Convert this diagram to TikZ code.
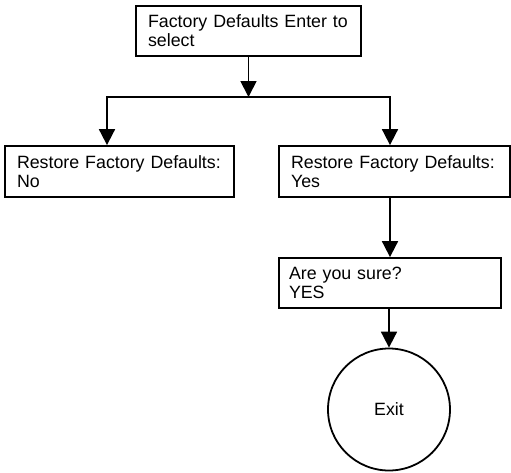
\documentclass[tikz,border=0pt]{standalone}
\usepackage{fontspec}
\setmainfont{Liberation Sans}
\usepackage{tikz}
\usetikzlibrary{arrows.meta}

\begin{document}
\begin{tikzpicture}[x=1pt, y=-1pt,
    every node/.style={font=\fontsize{17.8}{19}\selectfont},
    menubox/.style={draw, line width=1.8pt, rectangle, inner xsep=12pt, inner ysep=0pt,
        minimum height=50pt, align=left},
    exitnode/.style={draw, line width=1.8pt, circle, minimum size=122pt, inner sep=0pt},
    flow/.style={line width=1.8pt, -{Triangle[length=16pt, width=16pt]}},
    fork/.style={line width=1.8pt, {Triangle[length=16pt, width=16pt]}-{Triangle[length=16pt, width=16pt]}}
]
  \useasboundingbox (0,0) rectangle (511,472);

  % Menuepunkte
  \node[menubox, text width=201pt] (top) at (248.5,31) {\mbox{Factory Defaults Enter to}\\select};
  \node[menubox, text width=205pt, minimum height=51pt] (no) at (119.5,171.5) {\mbox{Restore Factory Defaults:}\\No};
  \node[menubox, text width=207pt, minimum height=51pt] (yes) at (394.5,171.5) {\mbox{Restore Factory Defaults:}\\Yes};
  \node[menubox, inner xsep=10pt, text width=202pt] (sure) at (390,283) {Are you sure?\\YES};

  % Ende
  \node[exitnode] (exit) at (389,409.5) {Exit};

  % Verzweigung
  \coordinate (jl) at (107,97);
  \coordinate (jr) at (390,97);
  \draw[flow] (top.south) -- (top.south |- jl);
  \draw[fork] (jl |- no.north) -- (jl) -- (jr) -- (jr |- yes.north);

  % Weiter zu Exit
  \draw[flow] (yes.south -| jr) -- (sure.north -| jr);
  \draw[flow] (sure.south -| exit.north) -- (exit.north);

\end{tikzpicture}
\end{document}
